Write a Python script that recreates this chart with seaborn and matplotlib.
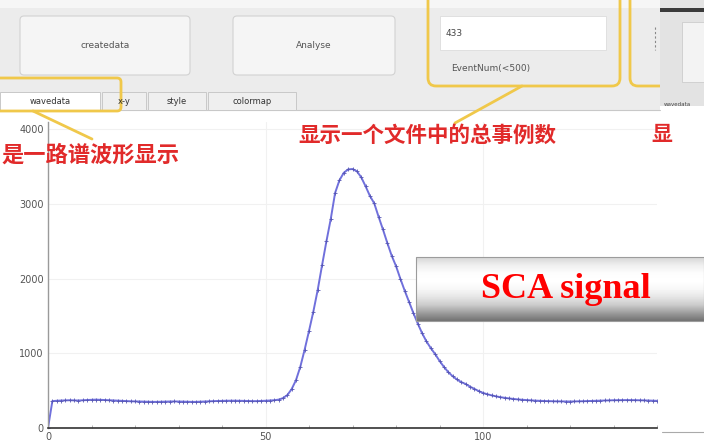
import matplotlib
matplotlib.use("Agg")
import numpy as np
import pandas as pd
import matplotlib.pyplot as plt
from matplotlib.patches import FancyBboxPatch, Rectangle
from matplotlib.lines import Line2D
from matplotlib.transforms import Affine2D
import seaborn as sns

# SCA waveform: ADC counts for each sample of one channel
sample = list(range(141))
adc = [
    0, 360, 365, 368, 370, 372, 370, 368, 372, 375,
    378, 380, 378, 375, 372, 368, 365, 362, 360, 358,
    356, 355, 354, 352, 350, 350, 352, 354, 355, 356,
    355, 354, 352, 350, 350, 352, 355, 358, 360, 362,
    364, 365, 366, 366, 365, 364, 362, 360, 360, 362,
    365, 368, 372, 380, 400, 440, 520, 640, 820, 1050,
    1300, 1560, 1850, 2180, 2500, 2800, 3150, 3320, 3420, 3465,
    3470, 3440, 3360, 3240, 3110, 3010, 2830, 2660, 2480, 2310,
    2170, 2000, 1840, 1690, 1540, 1400, 1270, 1160, 1070, 990,
    900, 820, 750, 695, 650, 615, 590, 555, 525, 495,
    470, 452, 437, 424, 413, 404, 396, 389, 383, 378,
    374, 370, 367, 364, 362, 360, 358, 357, 356, 355,
    355, 356, 357, 359, 361, 363, 365, 367, 369, 371,
    372, 373, 374, 374, 374, 373, 372, 370, 368, 366,
    364,
]
y_ticks = [0, 1000, 2000, 3000, 4000]
x_ticks = [0, 50, 100]

# GUI texts
buttons = ["createdata", "Analyse"]
tabs = ["wavedata", "x-y", "style", "colormap"]
event_count = "433"
event_label = "EventNum(<500)"
note_total = "显示一个文件中的总事例数"
note_wave = "是一路谱波形显示"
title_box = "SCA signal"

sns.set_theme(style="white")
plt.rcParams["font.family"] = ["DejaVu Sans", "Noto Sans CJK SC"]

W, H = 704, 443
fig = plt.figure(figsize=(W / 100, H / 100), dpi=100, facecolor="white")
# pixel coordinates measured from the top-left corner
px = Affine2D().scale(1 / W, -1 / H).translate(0, 1) + fig.transFigure


def rect(x0, y0, x1, y1, z=0.5, **kw):
    fig.add_artist(Rectangle((x0, y0), x1 - x0, y1 - y0, transform=px, zorder=z, **kw))


def rbox(x0, y0, x1, y1, rad, z=0.5, **kw):
    fig.add_artist(FancyBboxPatch((x0, y0), x1 - x0, y1 - y0,
                                  boxstyle=f"round,pad=0,rounding_size={rad}",
                                  transform=px, zorder=z, **kw))


def seg(xs, ys, z=3, **kw):
    fig.add_artist(Line2D(xs, ys, transform=px, zorder=z, **kw))


def label(x, y, s, z=4, **kw):
    fig.text(x / W, 1 - y / H, s, zorder=z, **kw)


# ---- control panel ----
rect(0, 0, 660, 8, fc="#f6f6f6", ec="none", z=0.2)
rect(0, 8, 660, 111, fc="#ececec", ec="none", z=0.2)
rbox(20, 16, 190, 75, 4, fc="#f5f5f5", ec="#d2d2d2", lw=0.8)
rbox(233, 16, 395, 75, 4, fc="#f5f5f5", ec="#d2d2d2", lw=0.8)
label(105, 46, buttons[0], fontsize=6.5, color="#555555", ha="center", va="center")
label(314, 46, buttons[1], fontsize=6.5, color="#555555", ha="center", va="center")

rect(440, 16, 606, 50, fc="white", ec="#dddddd", lw=0.6)
label(446, 33, event_count, fontsize=6.5, color="#444444", va="center")
label(451, 68, event_label, fontsize=6.5, color="#555555", va="center")
seg([655, 655], [27, 50], color="#888888", lw=0.8, ls=(0, (2, 2)), z=0.6)

# tab bar
seg([100, 660], [110.5, 110.5], color="#c8c8c8", lw=0.8, z=0.6)
tab_edges = [(0, 100), (102, 146), (148, 206), (208, 296)]
for i, (name, (a, b)) in enumerate(zip(tabs, tab_edges)):
    rect(a, 92, b, 111 if i == 0 else 110, fc="white" if i == 0 else "#efefef",
         ec="#c8c8c8", lw=0.7, z=0.7)
    label((a + b) / 2, 101, name, fontsize=6, color="#333333", ha="center", va="center")

# right-hand panel
rect(660, 0, 704, 106, fc="#e3e3e3", ec="none", z=2)
rect(660, 8, 704, 12, fc="#3a3a3a", ec="none", z=2.1)
rect(682, 22, 704, 82, fc="#f3f3f3", ec="#cccccc", lw=0.6, z=2.1)
label(664, 104, "wavedata", fontsize=4, color="#444444", va="center", z=2.2)
seg([662, 704], [432, 432], color="#aaaaaa", lw=0.8, z=2)

# yellow callouts
yellow = "#f0c84a"
rbox(428, -12, 620, 86, 8, fc="none", ec=yellow, lw=2.0, z=3)
rbox(630, -12, 690, 86, 8, fc="none", ec=yellow, lw=2.0, z=1.5)
seg([522, 455], [86, 123], color=yellow, lw=2.0)
rbox(-15, 78, 121, 111, 4, fc="none", ec=yellow, lw=2.0, z=3)
seg([33, 92], [111, 139], color=yellow, lw=2.0)

# ---- waveform ----
ax = fig.add_axes([48 / W, 1 - 428 / H, 609 / W, 306 / H], zorder=1)
df = pd.DataFrame({"sample": sample, "adc": adc})
sns.lineplot(data=df, x="sample", y="adc", ax=ax, color="#7070dc", linewidth=1.4,
             marker="+", markersize=3.0, markeredgecolor="#5656b4",
             markeredgewidth=0.6)
ax.set_xlim(0, 140)
ax.set_ylim(0, 4100)
ax.set_xticks(x_ticks)
ax.set_yticks(y_ticks)
ax.set_xticks(range(0, 141, 10), minor=True)
ax.set_xlabel("")
ax.set_ylabel("")
ax.tick_params(axis="both", which="major", direction="in", length=3, width=0.7,
               color="#777777", labelsize=7, labelcolor="#555555", pad=3)
ax.tick_params(axis="x", which="minor", direction="in", length=2, width=0.5,
               color="#999999", bottom=True)
ax.grid(True, which="major", color="#f1f1f1", lw=0.8)
for side in ("top", "right"):
    ax.spines[side].set_visible(False)
ax.spines["left"].set_color("#9a9a9a")
ax.spines["left"].set_linewidth(1.0)
ax.spines["bottom"].set_color("#333333")
ax.spines["bottom"].set_linewidth(1.2)

# ---- red annotations ----
red = "#e12a2a"
label(1, 155, note_wave, fontsize=16, color=red, fontweight="bold",
      family=["Noto Sans CJK SC"], va="center")
label(298, 135, note_total, fontsize=15.5, color=red, fontweight="bold",
      family=["Noto Sans CJK SC"], va="center")
label(651, 135, "显", fontsize=15, color=red, fontweight="bold",
      family=["Noto Sans CJK SC"], va="center", z=1.8)

# ---- "SCA signal" banner ----
bx = fig.add_axes([416 / W, 1 - 321 / H, (704 - 416) / W, 64 / H], zorder=5)
stops = np.array([0.84, 0.94, 0.99, 1.0, 0.97, 0.9, 0.8, 0.62, 0.45])
grad = np.interp(np.linspace(0, 1, 64), np.linspace(0, 1, len(stops)), stops)
bx.imshow(grad[:, None], cmap="gray", vmin=0, vmax=1, aspect="auto",
          extent=[0, 1, 0, 1])
bx.set_axis_off()
rect(416, 257, 704, 321, fc="none", ec="#9c9c9c", lw=0.8, z=6)
label(566, 289, title_box, fontsize=26, color="#ff0000", fontweight="bold",
      family=["Liberation Serif"], ha="center", va="center", z=7)

fig.savefig("out.png", dpi=100, facecolor="white")
